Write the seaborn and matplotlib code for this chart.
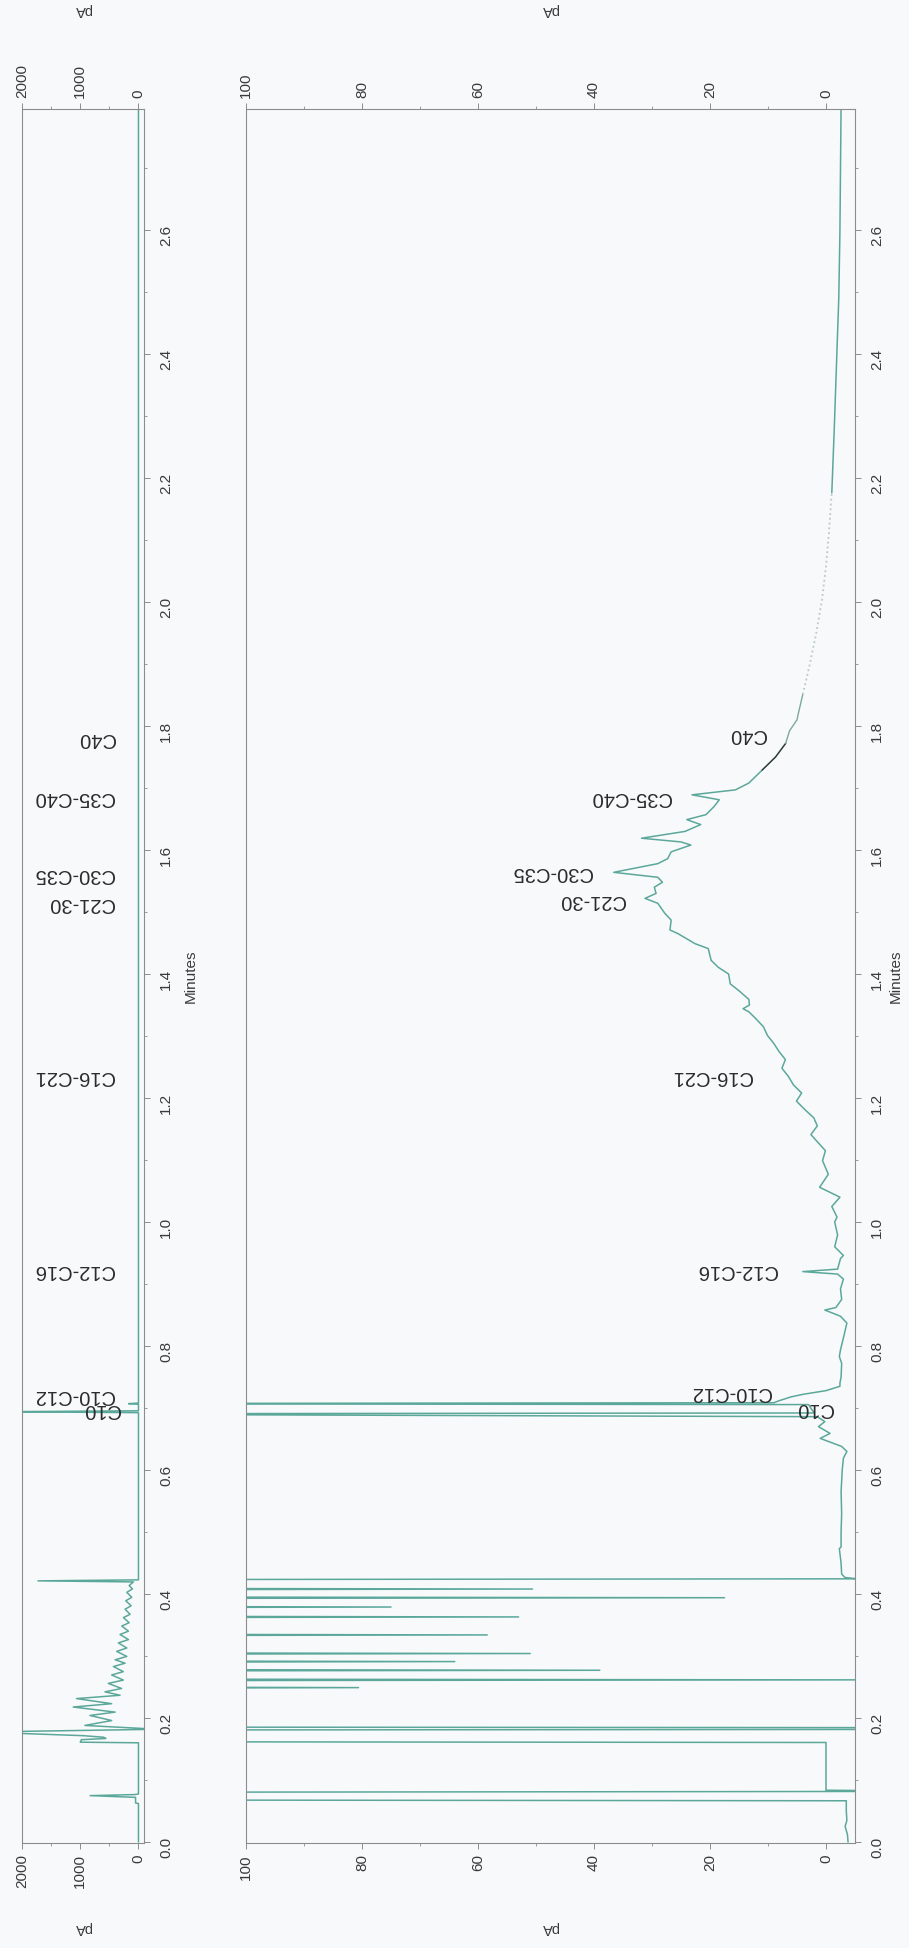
import numpy as np
import pandas as pd
import matplotlib
matplotlib.use("Agg")
import matplotlib.pyplot as plt
import seaborn as sns
from matplotlib.ticker import MultipleLocator, FormatStrFormatter

# ---------------- data ----------------
# Lower-range panel (0-100 pA)
main_minutes = [
    0.000, 0.012, 0.025, 0.035, 0.050, 0.0665, 0.0680, 0.0800, 0.0815, 0.0830,
    0.0835, 0.1605, 0.1620, 0.1805, 0.1815, 0.1845, 0.1855, 0.2475, 0.2490, 0.2505,
    0.2600, 0.2615, 0.2630, 0.2755, 0.2770, 0.2785, 0.2895, 0.2910, 0.2925, 0.3025,
    0.3040, 0.3055, 0.3325, 0.3340, 0.3355, 0.3615, 0.3630, 0.3645, 0.3775, 0.3790,
    0.3805, 0.3925, 0.3940, 0.3955, 0.4065, 0.4080, 0.4095, 0.4230, 0.4245, 0.4265,
    0.432, 0.450, 0.473, 0.476, 0.500, 0.530, 0.565, 0.600, 0.619, 0.630,
    0.638, 0.651, 0.659, 0.670, 0.678, 0.686, 0.6905, 0.692, 0.698, 0.7055,
    0.7070, 0.7085, 0.712, 0.718, 0.722, 0.728, 0.735, 0.740, 0.750, 0.772,
    0.783, 0.794, 0.813, 0.837, 0.848, 0.858, 0.862, 0.875, 0.892, 0.908,
    0.916, 0.920, 0.924, 0.941, 0.946, 0.960, 0.979, 1.000, 1.008, 1.025,
    1.040, 1.056, 1.077, 1.099, 1.115, 1.141, 1.155, 1.168, 1.180, 1.195,
    1.208, 1.221, 1.235, 1.248, 1.262, 1.275, 1.288, 1.301, 1.315, 1.328,
    1.339, 1.344, 1.350, 1.359, 1.373, 1.384, 1.400, 1.411, 1.422, 1.441,
    1.449, 1.465, 1.471, 1.487, 1.498, 1.514, 1.522, 1.530, 1.540, 1.548,
    1.556, 1.564, 1.578, 1.586, 1.597, 1.608, 1.613, 1.619, 1.630, 1.641,
    1.649, 1.657, 1.670, 1.681, 1.689, 1.697, 1.708, 1.729, 1.750, 1.772,
    1.792, 1.810, 1.819, 1.851, 1.895, 1.949, 2.003, 2.057, 2.111, 2.165,
    2.176, 2.273, 2.381, 2.489, 2.597, 2.700, 2.800,
]
main_pA = [
    -3.8, -3.7, -3.3, -3.6, -3.5, -3.5, 150, 150, -6, -6,
    0, 0, 150, 150, -6, -6, 150, 150, 80.6, 150,
    150, -5.5, 150, 150, 39, 150, 150, 64, 150, 150,
    51, 150, 150, 58.4, 150, 150, 53, 150, 150, 75,
    150, 150, 17.5, 150, 150, 50.6, 150, 150, -5.5, -3.3,
    -2.7, -2.6, -2.3, -2.6, -2.6, -2.7, -2.6, -2.8, -3.0, -3.6,
    -2.7, 1.0, -0.7, 1.3, 0.2, 1.5, 150, 2.0, 2.5, 3.0,
    150, 9.0, 8.0, 6.0, 4.0, 0.0, -2.4, -2.4, -2.6, -2.7,
    -2.3, -2.5, -3.0, -3.6, -2.5, 0.2, -1.7, -2.7, -2.5, -3.0,
    -2.0, 4.0, -2.0, -2.5, -3.0, -1.5, -2.0, -1.5, -1.9, -1.0,
    -2.4, 1.1, -0.4, 0.6, 0.1, 2.6, 1.5, 2.1, 3.5, 5.1,
    4.2, 5.6, 6.5, 7.6, 7.0, 8.1, 9.0, 10.1, 10.8, 12.1,
    13.3, 14.3, 13.2, 13.3, 15.0, 16.5, 16.8, 18.6, 19.8, 20.3,
    22.6, 25.5, 26.9, 26.7, 27.8, 29.0, 31.2, 29.3, 29.6, 28.2,
    29.0, 36.6, 29.0, 27.3, 26.7, 23.3, 25.0, 31.8, 24.3, 21.6,
    24.0, 20.7, 19.3, 18.4, 23.1, 15.6, 13.3, 11.0, 8.7, 6.95,
    6.3, 5.0, 4.8, 4.0, 2.9, 1.7, 0.7, 0.0, -0.5, -0.9,
    -1.0, -1.4, -1.8, -2.2, -2.4, -2.5, -2.6,
]

# Full-range panel (0-2000 pA)
left_minutes = [
    0.000, 0.062, 0.063, 0.072, 0.0748, 0.0765, 0.0775, 0.1600, 0.1610, 0.1650,
    0.1670, 0.1690, 0.1715, 0.1760, 0.1780, 0.1815, 0.1830, 0.1880, 0.1959, 0.2041,
    0.2095, 0.2177, 0.2231, 0.2313, 0.2367, 0.2422, 0.2476, 0.2558, 0.2612, 0.2694,
    0.2748, 0.2830, 0.2884, 0.2939, 0.2993, 0.3075, 0.3129, 0.3211, 0.3265, 0.3347,
    0.3401, 0.3483, 0.3537, 0.3619, 0.3673, 0.3755, 0.3810, 0.3891, 0.3946, 0.4027,
    0.4082, 0.4136, 0.4195, 0.4212, 0.4228, 0.6925, 0.6940, 0.6955, 0.7060, 0.7070,
    0.7080, 2.800,
]
left_pA = [
    0, 0, 50, 50, 830, 60, 0, 0, 1000, 980,
    560, 600, 950, 2300, 2300, -90, -90, 920, 460, 834,
    400, 1120, 460, 1064, 316, 575, 290, 518, 260, 460,
    260, 430, 230, 400, 200, 374, 200, 345, 172, 316,
    172, 287, 160, 258, 144, 230, 126, 218, 115, 200,
    103, 160, 86, 1725, 0, 0, 2400, 0, 0, 170,
    0, 0,
]

peak_names = ["C10", "C10-C12", "C12-C16", "C16-C21", "C21-30", "C30-C35", "C35-C40", "C40"]
main_label_minutes = [0.700, 0.725, 0.922, 1.234, 1.519, 1.563, 1.685, 1.787]
main_label_pA = [-1.2, 9.5, 8.4, 12.8, 34.7, 40.4, 26.8, 10.4]
left_label_minutes = [0.697, 0.720, 0.921, 1.234, 1.514, 1.561, 1.684, 1.780]
left_label_pA = [320, 420, 420, 420, 420, 420, 420, 400]

minute_ticks = [0.0, 0.2, 0.4, 0.6, 0.8, 1.0, 1.2, 1.4, 1.6, 1.8, 2.0, 2.2, 2.4, 2.6]
main_pA_ticks = [0, 20, 40, 60, 80, 100]
left_pA_ticks = [0, 1000, 2000]

# ---------------- styling ----------------
sns.set_style("white")
plt.rcParams["font.family"] = ["Liberation Sans", "DejaVu Sans"]

BG = "#f8f9fb"
TEAL = "#5ba89b"
SPINE = "#8c8c8c"
TXT = "#3a3a3a"

W, H = 909, 1948
fig = plt.figure(figsize=(W / 100, H / 100), dpi=100, facecolor=BG)

T0_PX = 1842.0      # pixel row of 0 minutes
PX_PER_MIN = 620.0
YMIN, YMAX = -0.002, 2.795
y_top = T0_PX - YMAX * PX_PER_MIN
y_bot = T0_PX - YMIN * PX_PER_MIN


def rect(x0, x1):
    return [x0 / W, 1 - y_bot / H, (x1 - x0) / W, (y_bot - y_top) / H]


ax_left = fig.add_axes(rect(22, 144))
ax_main = fig.add_axes(rect(246, 855))

main_df = pd.DataFrame({"minutes": main_minutes, "pA": main_pA})
left_df = pd.DataFrame({"minutes": left_minutes, "pA": left_pA})


def style_axis(ax, xlim, xticks, xminor, min_label_x):
    ax.set_facecolor(BG)
    ax.set_xlim(*xlim)
    ax.set_ylim(YMIN, YMAX)
    for s in ax.spines.values():
        s.set_color(SPINE)
        s.set_linewidth(0.8)
        s.set_visible(True)
    ax.set_xticks(xticks)
    ax.xaxis.set_minor_locator(MultipleLocator(xminor))
    ax.set_yticks(minute_ticks)
    ax.yaxis.set_minor_locator(MultipleLocator(0.1))
    ax.yaxis.set_major_formatter(FormatStrFormatter("%.1f"))
    ax.tick_params(axis="x", which="both", top=True, bottom=True, labeltop=True,
                   labelbottom=True, direction="out", colors=SPINE, labelcolor=TXT,
                   labelrotation=90, labelsize=11, pad=4)
    ax.tick_params(axis="x", which="major", length=4, width=0.7)
    ax.tick_params(axis="x", which="minor", length=2.5, width=0.6)
    ax.yaxis.tick_right()
    ax.tick_params(axis="y", which="both", left=False, right=True, labelleft=False,
                   labelright=True, direction="out", colors=SPINE, labelcolor=TXT,
                   labelrotation=90, labelsize=11, pad=7)
    ax.tick_params(axis="y", which="major", length=4, width=0.7)
    ax.tick_params(axis="y", which="minor", length=2.5, width=0.6)
    ax.yaxis.set_label_position("right")
    ax.set_ylabel("Minutes", rotation=90, fontsize=11, color=TXT)
    ax.yaxis.set_label_coords(min_label_x, 0.5)
    ax.set_xlabel("pA", rotation=180, fontsize=10.5, color=TXT)
    ax.xaxis.set_label_coords(0.5, (y_bot - 1928) / (y_bot - y_top))
    ax.xaxis.label.set_va("center")
    ax.text(0.5, (y_bot - 10) / (y_bot - y_top), "pA", rotation=180, ha="center",
            va="center", fontsize=10.5, color=TXT, transform=ax.transAxes)


# full-range panel
sns.lineplot(data=left_df, x="pA", y="minutes", orient="y", sort=False,
             estimator=None, color=TEAL, linewidth=1.1, ax=ax_left, legend=False)
style_axis(ax_left, (2000, -95), left_pA_ticks, 500, (184 - 22) / 122)

# low-range panel, drawn in segments to mimic the scan's shading
t = main_df["minutes"]
segments = [
    (t <= 1.729, TEAL, "-", 1.1),
    ((t >= 1.729) & (t <= 1.772), "#2a3a36", "-", 1.1),
    ((t >= 1.772) & (t <= 1.851), "#7fa89c", "-", 1.0),
    ((t >= 1.851) & (t <= 2.176), "#b9c9c4", ":", 1.3),
    (t >= 2.176, TEAL, "-", 1.1),
]
for mask, col, ls, lw in segments:
    sns.lineplot(data=main_df[mask], x="pA", y="minutes", orient="y", sort=False,
                 estimator=None, color=col, linestyle=ls, linewidth=lw,
                 ax=ax_main, legend=False)
style_axis(ax_main, (100, -5), main_pA_ticks, 10, (889 - 246) / 609)

# peak labels
for name, tm, pa in zip(peak_names, main_label_minutes, main_label_pA):
    ax_main.text(pa, tm, name, rotation=180, rotation_mode="anchor", ha="left",
                 va="center", fontsize=14.5, color="#2b2b2b")
for name, tm, pa in zip(peak_names, left_label_minutes, left_label_pA):
    ax_left.text(pa, tm, name, rotation=180, rotation_mode="anchor", ha="left",
                 va="center", fontsize=14.5, color="#2b2b2b")

fig.savefig("out.png", dpi=100, facecolor=BG)
